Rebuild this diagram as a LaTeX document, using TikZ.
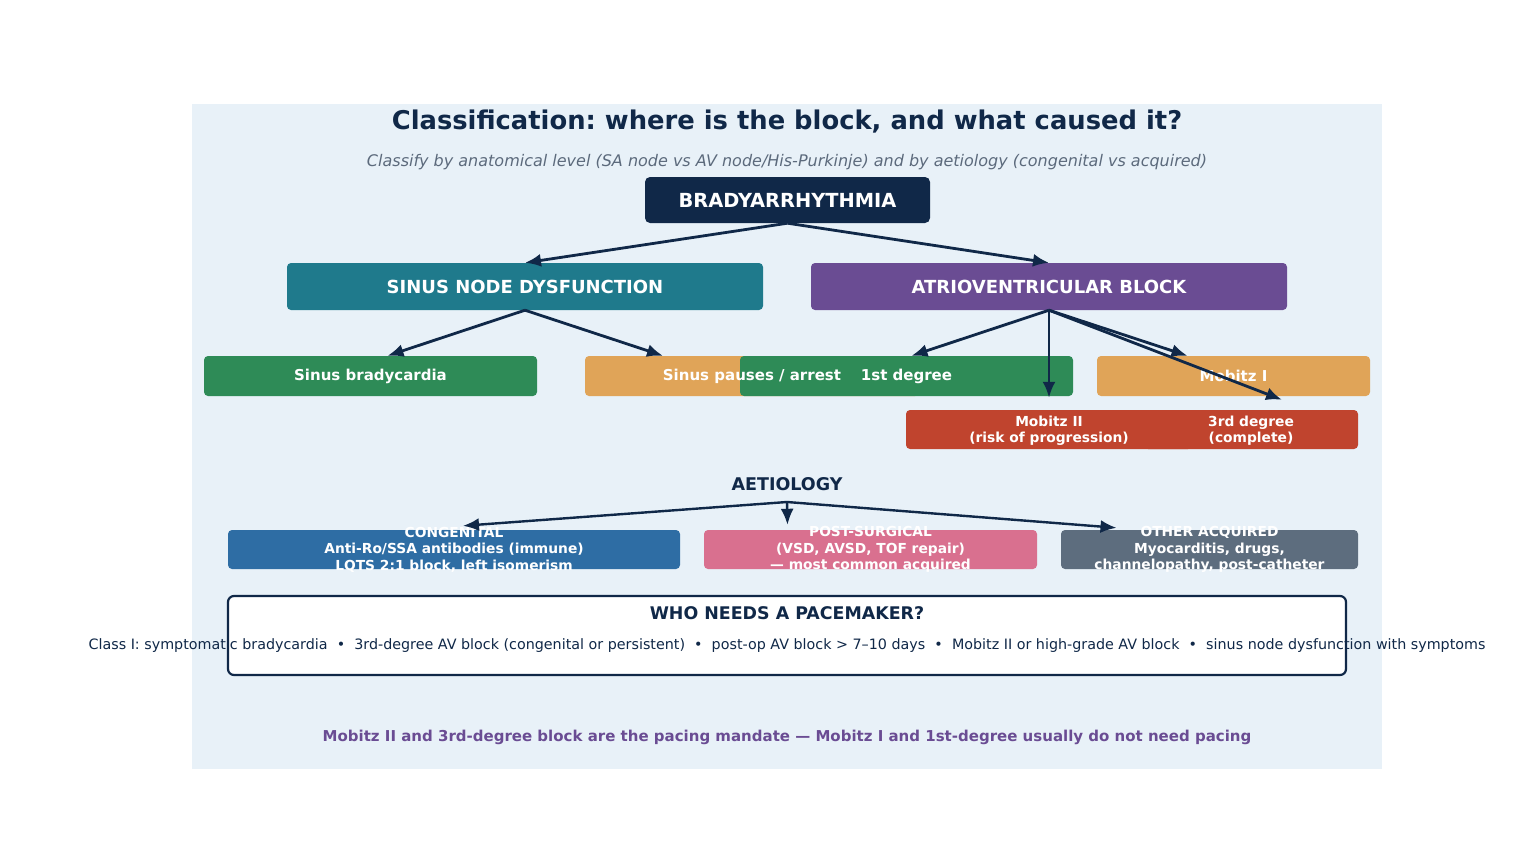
\documentclass[tikz,border=0pt]{standalone}
\usepackage{fontspec}
\setmainfont{DejaVu Sans}
\usepackage{xcolor}
\usepackage{tikz}
\usetikzlibrary{arrows.meta, positioning, backgrounds, calc}
\frenchspacing

\definecolor{navyc}{RGB}{16,40,72}
\definecolor{panelblue}{RGB}{232,241,248}
\definecolor{subgray}{RGB}{92,106,124}
\definecolor{sndteal}{RGB}{31,122,140}
\definecolor{avbpurple}{RGB}{106,76,147}
\definecolor{leafgreen}{RGB}{46,139,87}
\definecolor{leaforange}{RGB}{224,164,88}
\definecolor{leafred}{RGB}{192,68,46}
\definecolor{congblue}{RGB}{46,109,164}
\definecolor{surgpink}{RGB}{217,112,143}
\definecolor{acqgray}{RGB}{93,109,126}

\begin{document}
\begin{tikzpicture}[
    x=1pt, y=-1pt,
    box/.style={rectangle, draw=none, rounded corners=4pt, inner sep=0pt, fill=#1},
    boxtext/.style={text=white, align=center, font=\bfseries\fontsize{15}{18}\selectfont},
    smalltext/.style={text=white, align=center, font=\bfseries\fontsize{13.8}{16.5}\selectfont},
    arrow/.style={-{Latex[length=16pt, width=13pt]}, line width=2.8pt, color=navyc}
]
\useasboundingbox (0,0) rectangle (1536,864);

% Panel and coloured boxes (behind texts and arrows)
\begin{scope}[on background layer]
    \fill[white] (0,0) rectangle (1536,864);
    \fill[panelblue] (192,104) rectangle (1382,769);

    % Root
    \node[box=navyc, rounded corners=5pt, minimum width=285pt, minimum height=46pt] (brady) at (787.5,200) {};

    % Level 1
    \node[box=sndteal, minimum width=476pt, minimum height=47pt] (snd) at (525,286.5) {};
    \node[box=avbpurple, minimum width=476pt, minimum height=47pt] (avb) at (1049,286.5) {};

    % Level 2
    \node[box=leafgreen, minimum width=333pt, minimum height=40pt] (sbrady) at (370.5,376) {};
    \node[box=leaforange, minimum width=334pt, minimum height=40pt] (spause) at (752,376) {};
    \node[box=leafgreen, minimum width=333pt, minimum height=40pt] (first) at (906.5,376) {};
    \node[box=leaforange, minimum width=273pt, minimum height=40pt] (mob1) at (1233.5,376) {};
    \node[box=leafred, minimum width=286pt, minimum height=39pt] (mob2) at (1049,429.5) {};
    \node[box=leafred, minimum width=214pt, minimum height=39pt] (third) at (1251,429.5) {};

    % Aetiology
    \node[box=congblue, minimum width=452pt, minimum height=39pt] (cong) at (454,549.5) {};
    \node[box=surgpink, minimum width=333pt, minimum height=39pt] (post) at (870.5,549.5) {};
    \node[box=acqgray, minimum width=297pt, minimum height=39pt] (other) at (1209.5,549.5) {};

    % Pacemaker panel
    \node[rectangle, draw=navyc, line width=2.2pt, fill=white, rounded corners=6pt, minimum width=1118pt, minimum height=79pt] (pace) at (787,635.5) {};
\end{scope}

% Title
\node[text=navyc, font=\bfseries\fontsize{25.8}{30}\selectfont] (title) at (787,122) {Classification: where is the block, and what caused it?};
\node[text=subgray, font=\itshape\fontsize{16}{19}\selectfont] (subtitle) at (787,162) {Classify by anatomical level (SA node vs AV node/His-Purkinje) and by aetiology (congenital vs acquired)};

% Box texts
\node[boxtext, font=\bfseries\fontsize{19.4}{22}\selectfont] (brady_txt) at (brady) {BRADYARRHYTHMIA};
\node[boxtext, font=\bfseries\fontsize{18}{22}\selectfont] (snd_txt) at (snd) {SINUS NODE DYSFUNCTION};
\node[boxtext, font=\bfseries\fontsize{18}{22}\selectfont] (avb_txt) at (avb) {ATRIOVENTRICULAR BLOCK};
\node[boxtext] (sbrady_txt) at (sbrady) {Sinus bradycardia};
\node[boxtext] (spause_txt) at (spause) {Sinus pauses / arrest};
\node[boxtext] (first_txt) at (first) {1st degree};
\node[boxtext] (mob1_txt) at (mob1) {Mobitz I};
\node[smalltext] (mob2_txt) at ([yshift=-1pt]mob2.center) {Mobitz II\\(risk of progression)};
\node[smalltext] (third_txt) at ([yshift=-1pt]third.center) {3rd degree\\(complete)};

% Aetiology
\node[text=navyc, font=\bfseries\fontsize{17.5}{21}\selectfont] (aet) at (787,484) {AETIOLOGY};
\coordinate (aet_split) at ([yshift=-18pt]aet.center);
\node[smalltext] (cong_txt) at (cong) {CONGENITAL\\Anti-Ro/SSA antibodies (immune)\\LQTS 2:1 block, left isomerism};
\node[smalltext] (post_txt) at (post) {POST-SURGICAL\\(VSD, AVSD, TOF repair)\\--- most common acquired};
\node[smalltext] (other_txt) at (other) {OTHER ACQUIRED\\Myocarditis, drugs,\\channelopathy, post-catheter};

% Pacemaker indications
\node[text=navyc, font=\bfseries\fontsize{17.4}{20}\selectfont] (pace_title) at (787,613) {WHO NEEDS A PACEMAKER?};
\node[text=navyc, font=\fontsize{14.3}{17}\selectfont] (pace_txt) at (787,646) {Class I: symptomatic bradycardia \ • \ 3rd-degree AV block (congenital or persistent) \ • \ post-op AV block > 7--10 days \ • \ Mobitz II or high-grade AV block \ • \ sinus node dysfunction with symptoms};

% Footer
\node[text=avbpurple, font=\bfseries\fontsize{15}{18}\selectfont] (footer) at (787,737) {Mobitz II and 3rd-degree block are the pacing mandate --- Mobitz I and 1st-degree usually do not need pacing};

% Arrows
% Root to level 1
\draw[arrow] (brady.south) -- (snd.north);
\draw[arrow] (brady.south) -- (avb.north);

% Sinus node branches
\draw[arrow] (snd.south) -- ([xshift=17pt]sbrady.north);
\draw[arrow] (snd.south) -- ([xshift=-89pt]spause.north);

% AV block branches
\draw[arrow] (avb.south) -- ([xshift=5pt]first.north);
\draw[arrow] (avb.south) -- ([yshift=12pt]mob2.north);
\draw[arrow] (avb.south) -- ([xshift=-46pt]mob1.north);
\draw[arrow] (avb.south) -- ([xshift=31pt, yshift=10pt]third.north);

% Aetiology branches
\draw[arrow, line width=2.4pt] (aet_split) -- ([xshift=9pt, yshift=4pt]cong.north);
\draw[arrow, line width=2.4pt] (aet_split) -- ([xshift=-83pt, yshift=5pt]post.north);
\draw[arrow, line width=2.4pt] (aet_split) -- ([xshift=-93pt, yshift=2pt]other.north);

\end{tikzpicture}
\end{document}
